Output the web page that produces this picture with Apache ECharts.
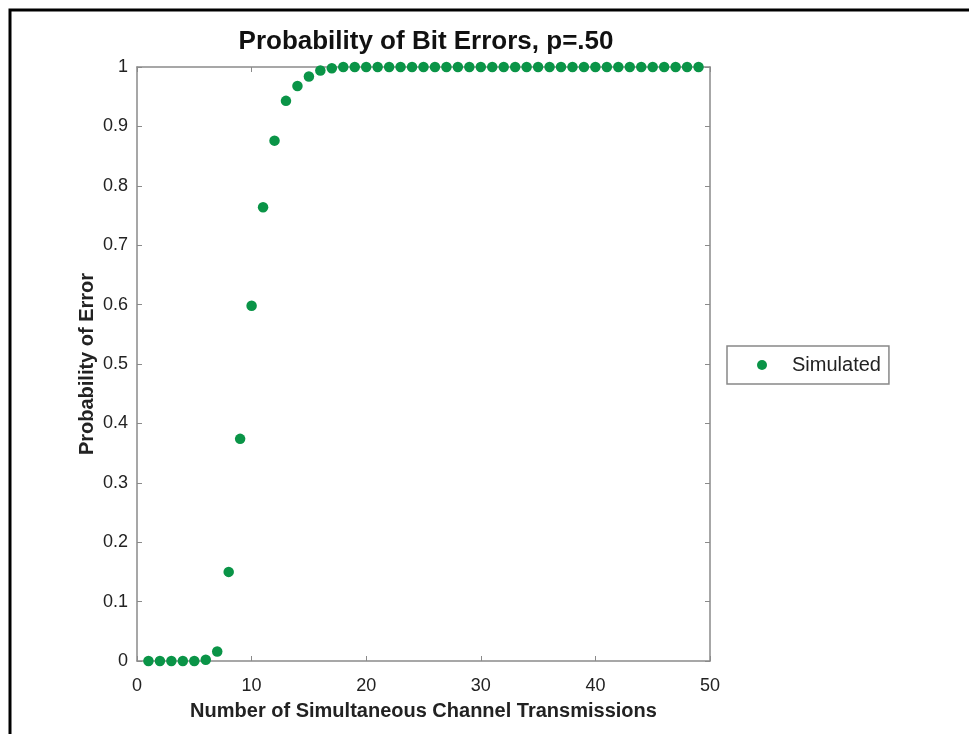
<!DOCTYPE html>
<html>
<head>
<meta charset="utf-8">
<script src="https://cdn.jsdelivr.net/npm/echarts@6/dist/echarts.min.js"></script>
<style>
html,body{margin:0;padding:0;background:#fff;}
#chart{width:969px;height:734px;}
</style>
</head>
<body>
<div id="chart"></div>
<script>
const transmissions = [1,2,3,4,5,6,7,8,9,10,11,12,13,14,15,16,17,18,19,20,21,22,23,24,25,26,27,28,29,30,31,32,33,34,35,36,37,38,39,40,41,42,43,44,45,46,47,48,49];
const probError = [0,0,0,0,0,0.002,0.016,0.15,0.374,0.598,0.764,0.876,0.943,0.968,0.984,0.994,0.998,1,1,1,1,1,1,1,1,1,1,1,1,1,1,1,1,1,1,1,1,1,1,1,1,1,1,1,1,1,1,1,1];
const xTicks = [0,10,20,30,40,50];
const yTicks = [0,0.1,0.2,0.3,0.4,0.5,0.6,0.7,0.8,0.9,1];

const font = 'Liberation Sans, Arial, Helvetica, sans-serif';
const axisGray = '#8a8a8a';
const green = '#0a9447';

const chart = echarts.init(document.getElementById('chart'), null, {renderer:'canvas'});
const pts = transmissions.map((x,i)=>[x, probError[i]]);

const baseX = {
  type:'value', min:xTicks[0], max:xTicks[xTicks.length-1], interval:10,
  axisLine:{show:true, onZero:false, lineStyle:{color:axisGray, width:1.5}},
  axisTick:{show:true, inside:true, length:5, lineStyle:{color:axisGray}},
  splitLine:{show:false}
};
const baseY = {
  type:'value', min:yTicks[0], max:yTicks[yTicks.length-1], interval:0.1,
  axisLine:{show:true, onZero:false, lineStyle:{color:axisGray, width:1.5}},
  axisTick:{show:true, inside:true, length:5, lineStyle:{color:axisGray}},
  splitLine:{show:false}
};

chart.setOption({
  animation:false,
  backgroundColor:'#fff',
  title:{
    text:'Probability of Bit Errors, p=.50',
    left:421, top:24, textAlign:'center',
    textStyle:{fontFamily:font, fontSize:26, fontWeight:'bold', color:'#111'}
  },
  grid:{left:137, right:259, top:67, bottom:73, containLabel:false},
  legend:{
    show:true, left:727, top:346, orient:'vertical',
    data:[{name:'Simulated', icon:'circle'}],
    itemWidth:10, itemHeight:10,
    padding:[9,8,9,30],
    borderColor:'#888', borderWidth:1.5, borderRadius:0,
    textStyle:{fontFamily:font, fontSize:20, color:'#222', padding:[0,0,0,20]}
  },
  xAxis:[
    Object.assign({}, baseX, {
      position:'bottom',
      name:'Number of Simultaneous Channel Transmissions',
      nameLocation:'middle', nameGap:40, nameMoveOverlap:false,
      nameTextStyle:{fontFamily:font, fontSize:20, fontWeight:'bold', color:'#222'},
      axisLabel:{fontFamily:font, fontSize:18, color:'#222', margin:16, formatter:v=>String(v)}
    }),
    Object.assign({}, baseX, {position:'top', axisLabel:{show:false}})
  ],
  yAxis:[
    Object.assign({}, baseY, {
      position:'left',
      name:'Probability of Error',
      nameLocation:'middle', nameGap:40, nameMoveOverlap:false,
      nameTextStyle:{fontFamily:font, fontSize:20, fontWeight:'bold', color:'#222'},
      axisLabel:{fontFamily:font, fontSize:18, color:'#222', margin:9,
        formatter:v=>{ const r=Math.round(v*10)/10; return r===0?'0':(r===1?'1':r.toFixed(1)); }}
    }),
    Object.assign({}, baseY, {position:'right', axisLabel:{show:false}})
  ],
  series:[{
    name:'Simulated', type:'scatter', xAxisIndex:0, yAxisIndex:0,
    data:pts, symbol:'circle', symbolSize:10.5,
    itemStyle:{color:green, opacity:1}, clip:false
  }],
  graphic:[{
    type:'rect', silent:true, z:100,
    shape:{x:10, y:10, width:990, height:760},
    style:{fill:'none', stroke:'#000', lineWidth:3}
  }]
});
</script>
</body>
</html>
